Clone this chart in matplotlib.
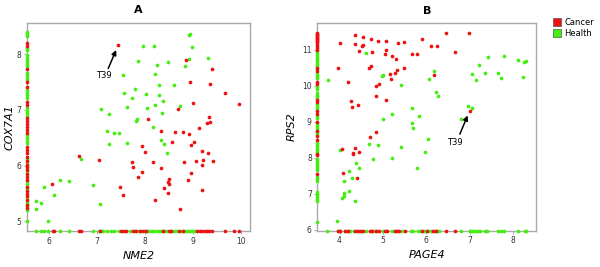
import numpy as np
import matplotlib.pyplot as plt
from matplotlib.lines import Line2D

RED = "#ee1111"
GREEN = "#44ee11"

# ---- panel A : NME2 vs COX7A1 ----
a_cancer_x = [7.45, 8.86, 9.40, 8.94, 9.36, 9.67, 9.0, 9.97, 8.70, 8.07, 9.34, 9.29, 9.37,
              9.13, 8.34, 8.63, 8.79, 8.92, 8.58, 9.03, 7.94, 8.96, 8.0, 9.20, 9.33, 6.64,
              7.06, 9.22, 9.42, 7.73, 8.17, 8.83, 9.08, 9.19, 7.76, 8.34, 7.95, 8.96, 7.87,
              8.50, 8.91, 8.49, 8.50, 7.48, 8.41, 9.19, 6.08, 7.54, 8.48, 8.22, 8.73]
a_cancer_y = [8.17, 7.90, 7.73, 7.50, 7.46, 7.30, 7.12, 7.11, 7.02, 6.83, 6.88, 6.77, 6.79,
              6.67, 6.62, 6.60, 6.60, 6.57, 6.43, 6.42, 6.36, 6.37, 6.25, 6.26, 6.23, 6.17,
              6.10, 6.10, 6.09, 6.07, 6.07, 6.06, 6.08, 6.01, 5.98, 5.96, 5.89, 5.87, 5.80,
              5.76, 5.75, 5.71, 5.68, 5.62, 5.60, 5.57, 5.68, 5.48, 5.51, 5.39, 5.23]
a_health_x = [8.94, 8.92, 7.97, 8.19, 8.98, 7.87, 8.92, 9.32, 8.26, 8.48, 8.84, 8.22, 7.56,
              8.62, 8.31, 7.81, 7.58, 8.03, 8.29, 7.73, 8.38, 8.21, 8.73, 7.64, 8.05, 7.10,
              7.26, 8.36, 7.85, 7.83, 8.17, 7.22, 7.36, 7.47, 8.34, 7.26, 7.64, 8.40, 8.46,
              6.68, 5.90, 6.11, 6.24, 6.43, 6.92, 7.08, 5.74, 5.85, 5.74, 5.99]
a_health_y = [8.37, 8.35, 8.14, 8.14, 8.12, 7.88, 7.91, 7.93, 7.80, 7.86, 7.79, 7.65, 7.62,
              7.45, 7.45, 7.38, 7.30, 7.28, 7.27, 7.22, 7.16, 7.09, 7.07, 7.06, 7.04, 7.01,
              6.93, 6.95, 6.84, 6.80, 6.69, 6.62, 6.59, 6.59, 6.47, 6.39, 6.41, 6.39, 6.22,
              6.12, 5.62, 5.48, 5.75, 5.72, 5.65, 5.31, 5.37, 5.33, 5.22, 5.01]
# samples with only one of the two values (drawn on the axis lines)
a_cancer_only_y = [8.20, 8.14, 7.74, 7.51, 7.42, 7.14, 7.09, 6.85, 6.80, 6.75, 6.69, 6.64,
                   6.58, 6.34, 6.28, 6.22, 6.16, 6.08, 6.02, 5.97, 5.92, 5.85, 5.80, 5.75,
                   5.62, 5.55, 5.50, 5.45, 5.38, 5.30, 5.24]
a_health_only_y = [8.40, 8.36, 8.33, 8.11, 8.08, 7.98, 7.94, 7.90, 7.86, 7.82, 7.78, 7.66,
                   7.62, 7.58, 7.54, 7.36, 7.31, 7.26, 7.21, 7.03, 6.98, 6.94, 6.90, 6.55,
                   6.50, 6.45, 6.40, 6.12, 6.05, 5.95, 5.89, 5.72, 5.68, 5.58, 5.42, 5.34,
                   5.27, 5.20, 5.01]
a_cancer_only_x = [6.09, 6.12, 6.64, 6.68, 7.08, 7.50, 7.55, 7.62, 7.75, 7.83, 7.90, 7.96,
                   8.03, 8.38, 8.50, 8.55, 8.72, 8.80, 9.10, 9.15, 9.20, 9.25, 9.30, 9.35,
                   9.40, 9.67, 9.86, 9.97]
a_health_only_x = [5.74, 5.85, 5.90, 5.99, 6.24, 6.43, 6.92, 7.06, 7.10, 7.13, 7.22, 7.30,
                   7.36, 7.47, 7.60, 7.70, 7.80, 7.88, 7.92, 8.00, 8.05, 8.10, 8.15, 8.20,
                   8.25, 8.30, 8.35, 8.40, 8.45, 8.55, 8.62, 8.68, 8.75, 8.82, 8.86, 8.90,
                   8.95, 9.00, 9.05]

# ---- panel B : PAGE4 vs RPS2 ----
b_cancer_x = [6.45, 6.98, 4.36, 4.54, 4.73, 4.88, 5.08, 4.00, 4.36, 5.35, 5.49, 5.91, 4.52,
              4.55, 6.11, 6.24, 5.08, 4.44, 4.75, 5.04, 5.68, 5.78, 6.66, 5.21, 5.31, 4.73,
              4.69, 3.97, 5.49, 5.28, 5.32, 5.17, 5.18, 4.20, 6.17, 4.91, 4.83, 4.83, 4.26,
              5.08, 4.28, 4.43, 7.01, 4.71, 4.83, 4.05, 4.36, 4.30, 4.31, 4.46, 4.07, 4.40]
b_cancer_y = [11.46, 11.46, 11.40, 11.36, 11.29, 11.23, 11.23, 11.18, 11.16, 11.19, 11.21,
              11.29, 11.10, 11.13, 11.11, 11.10, 10.99, 10.95, 10.94, 10.88, 10.87, 10.87,
              10.93, 10.81, 10.73, 10.55, 10.48, 10.48, 10.49, 10.36, 10.44, 10.32, 10.19,
              10.09, 10.30, 10.04, 10.00, 9.70, 9.57, 9.60, 9.40, 9.46, 9.30, 8.57, 8.72,
              8.24, 8.27, 8.12, 8.10, 8.16, 7.56, 7.43]
b_health_x = [4.60, 5.00, 4.98, 3.74, 5.42, 6.06, 6.19, 6.23, 6.28, 5.67, 5.20, 5.00, 5.83,
              5.68, 5.70, 6.80, 6.97, 7.05, 6.05, 4.68, 4.88, 5.42, 4.02, 5.98, 5.22, 4.78,
              4.37, 4.44, 5.79, 4.23, 4.28, 4.10, 4.21, 4.11, 4.11, 4.06, 4.36, 3.95, 7.22,
              7.06, 7.15, 7.35, 7.42, 7.79, 7.66, 7.72, 8.11, 8.26, 8.30, 8.23]
b_health_y = [10.90, 10.30, 10.27, 10.16, 10.01, 10.18, 10.39, 9.81, 9.71, 9.39, 9.20, 9.06,
              9.16, 8.95, 8.81, 9.06, 9.44, 9.38, 8.52, 8.38, 8.36, 8.28, 8.22, 8.16, 7.98,
              7.97, 7.84, 7.71, 7.72, 7.64, 7.43, 7.35, 7.07, 7.03, 6.94, 6.87, 6.80, 6.23,
              10.57, 10.31, 10.15, 10.34, 10.78, 10.81, 10.36, 10.22, 10.71, 10.65, 10.68,
              10.23]
b_cancer_only_y = [11.47, 11.44, 11.41, 11.38, 11.35, 11.32, 11.29, 11.26, 11.23, 11.20,
                   11.15, 11.10, 11.05, 11.00, 10.50, 10.40, 10.10, 10.05, 9.60, 9.55, 9.30,
                   9.20, 9.00, 8.75, 8.60, 8.50, 8.10, 8.07, 7.55]
b_health_only_y = [10.95, 10.90, 10.85, 10.80, 10.75, 10.70, 10.65, 10.60, 10.55, 10.45,
                   10.35, 10.30, 10.25, 10.20, 9.95, 9.90, 9.80, 9.75, 9.70, 9.65, 9.50,
                   9.45, 9.40, 9.35, 9.15, 9.10, 8.95, 8.90, 8.85, 8.80, 8.70, 8.65, 8.40,
                   8.35, 8.30, 8.25, 8.20, 8.15, 7.95, 7.90, 7.85, 7.80, 7.75, 7.70, 7.65,
                   7.45, 7.40, 7.35, 7.05, 7.00, 6.95, 6.90, 6.85, 6.80, 6.22]
b_cancer_only_x = [3.96, 4.02, 4.12, 4.20, 4.36, 4.42, 4.50, 4.55, 4.70, 4.74, 4.85, 4.92,
                   5.05, 5.10, 5.28, 5.32, 5.38, 5.50, 5.90, 6.02, 6.15, 6.22, 6.45, 6.66]
b_health_only_x = [3.72, 3.97, 4.00, 4.12, 4.20, 4.25, 4.33, 4.40, 4.48, 4.62, 4.72, 4.80,
                   4.85, 5.00, 5.10, 5.20, 5.28, 5.45, 5.65, 5.70, 5.80, 5.85, 5.95, 6.05,
                   6.10, 6.20, 6.25, 6.30, 6.80, 7.00, 7.02, 7.05, 7.10, 7.17, 7.20, 7.25,
                   7.35, 7.40, 7.65, 7.72, 7.80, 8.12, 8.28, 8.30]

groups = ["Cancer", "Health"]


def panel(ax, title, xlabel, ylabel, xlim, ylim, xticks, yticks,
          cx, cy, hx, hy, c_only_y, h_only_y, c_only_x, h_only_x,
          label_xy, tip_xy, start_xy, ylab_x):
    x0, y0 = xlim[0], ylim[0]
    kw = dict(s=7, linewidths=0, clip_on=False, zorder=3)
    # marginal samples on the axis lines
    ax.scatter([x0] * len(h_only_y), h_only_y, color=GREEN, **kw)
    ax.scatter([x0] * len(c_only_y), c_only_y, color=RED, **kw)
    ax.scatter(h_only_x, [y0] * len(h_only_x), color=GREEN, **kw)
    ax.scatter(c_only_x, [y0] * len(c_only_x), color=RED, **kw)
    ax.scatter(hx, hy, color=GREEN, **kw)
    ax.scatter(cx, cy, color=RED, **kw)
    ax.set_xlim(xlim)
    ax.set_ylim(ylim)
    ax.set_xticks(xticks)
    ax.set_yticks(yticks)
    ax.tick_params(labelsize=5.5, length=2, width=0.6, color="#999999",
                   labelcolor="#333333", pad=2)
    for s in ax.spines.values():
        s.set_color("#aaaaaa")
        s.set_linewidth(1.0)
    ax.set_title(title, fontsize=8, fontweight="bold", pad=7)
    ax.set_xlabel(xlabel, fontsize=8, style="italic")
    ax.set_ylabel(ylabel, fontsize=8, style="italic")
    ax.xaxis.set_label_coords(0.5, -0.095)
    ax.yaxis.set_label_coords(ylab_x, 0.5)
    ax.annotate("", xy=tip_xy, xytext=start_xy,
                arrowprops=dict(arrowstyle="-|>", color="black", lw=1.1,
                                mutation_scale=7))
    ax.text(label_xy[0], label_xy[1], "T39", fontsize=6, ha="center", va="center")


fig = plt.figure(figsize=(6, 2.67), dpi=100)
axA = fig.add_axes([0.045, 0.135, 0.372, 0.779])
axB = fig.add_axes([0.529, 0.136, 0.365, 0.777])

panel(axA, "A", "NME2", "COX7A1", (5.55, 10.2), (4.83, 8.56),
      [6, 7, 8, 9, 10], [5, 6, 7, 8],
      a_cancer_x, a_cancer_y, a_health_x, a_health_y,
      a_cancer_only_y, a_health_only_y, a_cancer_only_x, a_health_only_x,
      (7.15, 7.62), (7.43, 8.12), (7.22, 7.70), -0.058)
panel(axB, "B", "PAGE4", "RPS2", (3.49, 8.54), (5.97, 11.73),
      [4, 5, 6, 7, 8], [6, 7, 8, 9, 10, 11],
      b_cancer_x, b_cancer_y, b_health_x, b_health_y,
      b_cancer_only_y, b_health_only_y, b_cancer_only_x, b_health_only_x,
      (6.67, 8.42), (6.98, 9.24), (6.75, 8.58), -0.093)

handles = [Line2D([], [], marker="s", ls="none", markersize=6, markerfacecolor=c,
                  markeredgecolor="#555555", markeredgewidth=0.5)
           for c in (RED, GREEN)]
fig.legend(handles, groups, loc="upper left", bbox_to_anchor=(0.922, 0.935),
           frameon=False, fontsize=6, handlelength=0.7, handletextpad=0.5,
           labelspacing=0.2, borderpad=0.1, borderaxespad=0)

fig.savefig("out.png", dpi=100)
